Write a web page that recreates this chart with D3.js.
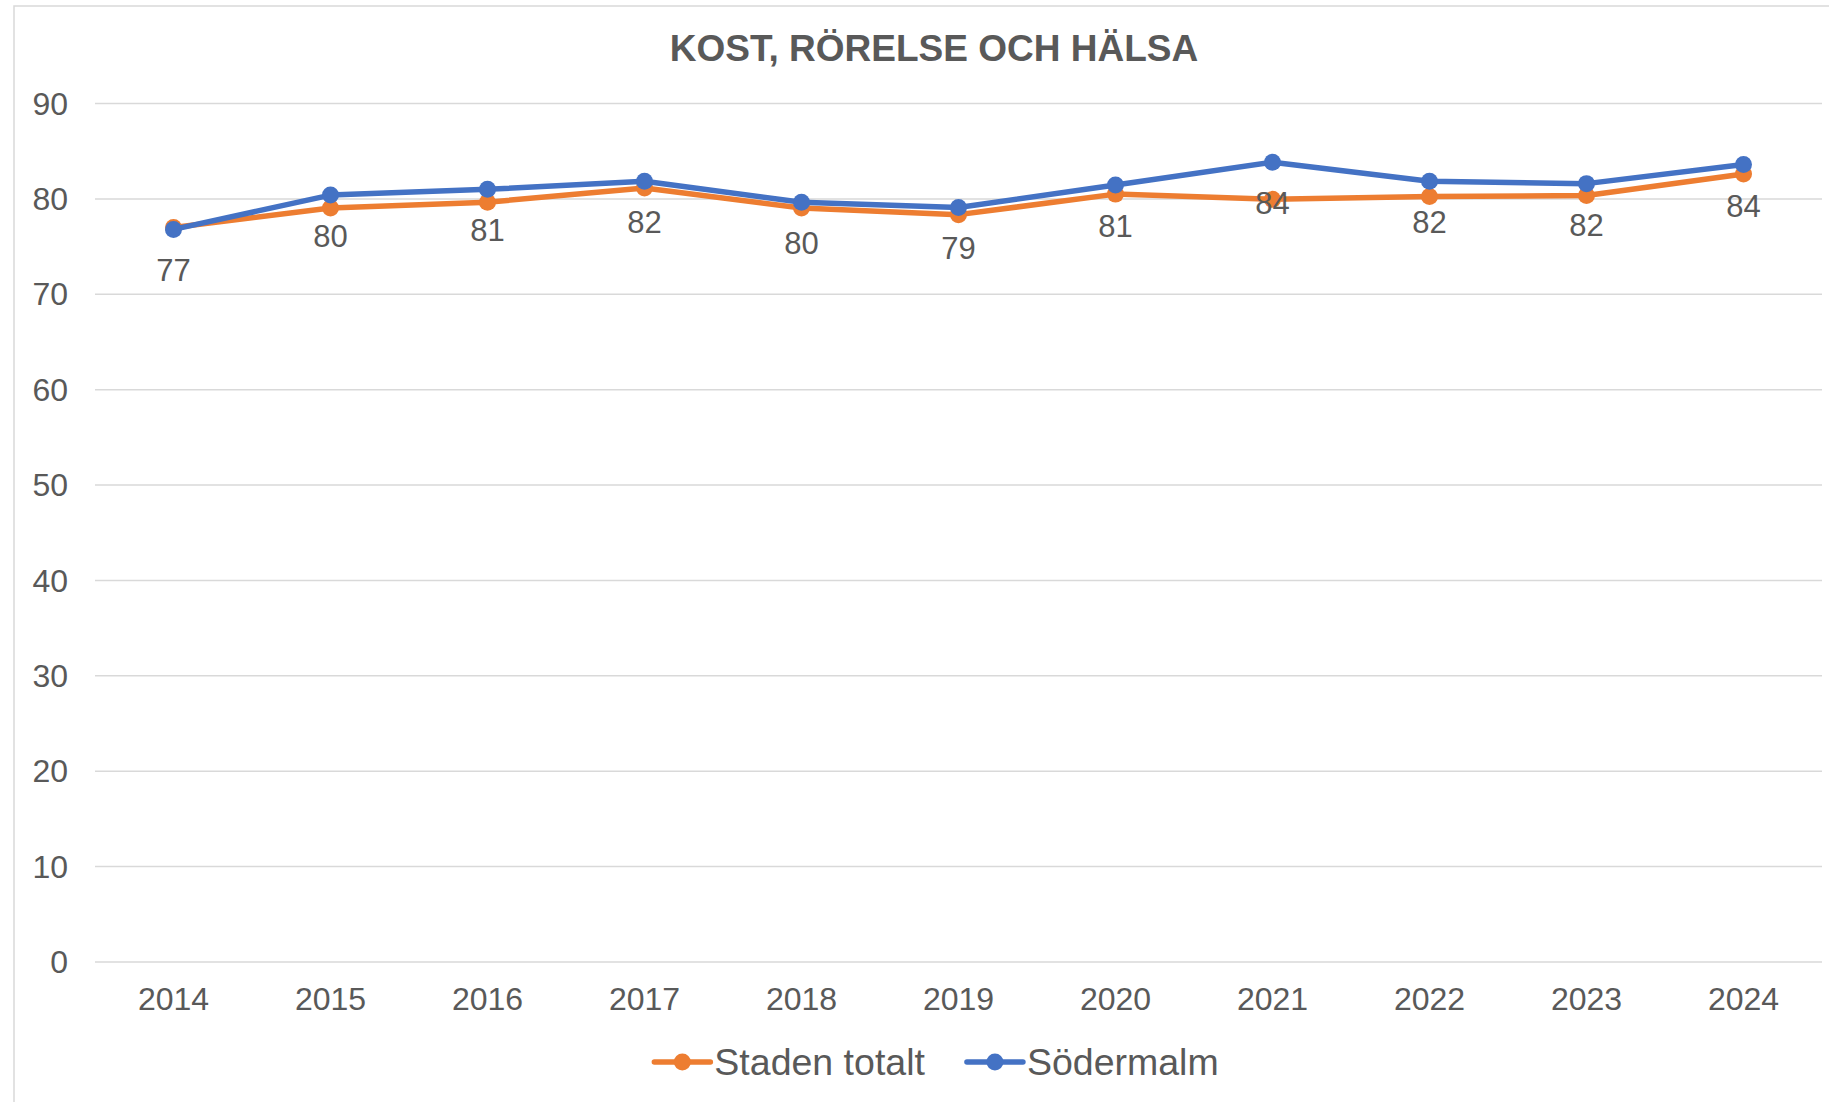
<!DOCTYPE html>
<html>
<head>
<meta charset="utf-8">
<script src="https://cdn.jsdelivr.net/npm/d3@7"></script>
<style>
  html, body { margin: 0; padding: 0; background: #fff; }
  svg { display: block; font-family: "Liberation Sans", Arial, sans-serif; }
</style>
</head>
<body>
<svg width="1829" height="1102"></svg>
<script>
// data
const years = ["2014", "2015", "2016", "2017", "2018", "2019", "2020", "2021", "2022", "2023", "2024"];
const stadenTotalt = [77.0, 79.05, 79.65, 81.15, 79.05, 78.35, 80.5, 79.95, 80.25, 80.35, 82.6];
const sodermalm = [76.8, 80.4, 81.0, 81.85, 79.65, 79.1, 81.45, 83.85, 81.85, 81.6, 83.6];
const yTicks = [0, 10, 20, 30, 40, 50, 60, 70, 80, 90];
const title = "KOST, RÖRELSE OCH HÄLSA";

const series = [
  { name: "Staden totalt", values: stadenTotalt, color: "#ED7D31" },
  { name: "Södermalm", values: sodermalm, color: "#4472C4" }
];

const textColor = "#595959";
const gridColor = "#d9d9d9";

const svg = d3.select("svg");

// outer chart border
svg.append("rect")
  .attr("x", 14).attr("y", 6)
  .attr("width", 1900).attr("height", 1200)
  .attr("fill", "#fff")
  .attr("stroke", gridColor)
  .attr("stroke-width", 1.5);

const plot = { left: 95, right: 1822, top: 103.5, bottom: 962 };

const x = d3.scaleBand()
  .domain(years)
  .range([plot.left, plot.right])
  .padding(0);

const y = d3.scaleLinear()
  .domain([0, 90])
  .range([plot.bottom, plot.top]);

const cx = d => x(d) + x.bandwidth() / 2;

// title
svg.append("text")
  .attr("x", 934)
  .attr("y", 61)
  .attr("text-anchor", "middle")
  .attr("font-size", 37)
  .attr("font-weight", "bold")
  .attr("fill", textColor)
  .text(title);

// gridlines
svg.append("g")
  .selectAll("line")
  .data(yTicks)
  .join("line")
  .attr("x1", plot.left)
  .attr("x2", plot.right)
  .attr("y1", d => y(d))
  .attr("y2", d => y(d))
  .attr("stroke", gridColor)
  .attr("stroke-width", 1.5);

// y axis labels
const yAxis = svg.append("g")
  .attr("transform", `translate(${plot.left - 27},0)`)
  .call(d3.axisLeft(y).tickValues(yTicks).tickSize(0).tickPadding(0));
yAxis.select(".domain").remove();
yAxis.selectAll("text")
  .attr("font-size", 32)
  .attr("font-family", "Liberation Sans, Arial, sans-serif")
  .attr("fill", textColor)
  .attr("dy", "0.33em");

// x axis labels
const xAxis = svg.append("g")
  .attr("transform", `translate(0,${plot.bottom})`)
  .call(d3.axisBottom(x).tickSize(0).tickPadding(0));
xAxis.select(".domain").remove();
xAxis.selectAll("text")
  .attr("font-size", 32)
  .attr("font-family", "Liberation Sans, Arial, sans-serif")
  .attr("fill", textColor)
  .attr("y", 48)
  .attr("dy", 0);

// lines and markers
const line = d3.line()
  .x((d, i) => cx(years[i]))
  .y(d => y(d));

series.forEach(s => {
  svg.append("path")
    .datum(s.values)
    .attr("d", line)
    .attr("fill", "none")
    .attr("stroke", s.color)
    .attr("stroke-width", 5.5)
    .attr("stroke-linejoin", "round")
    .attr("stroke-linecap", "round");

  svg.append("g")
    .selectAll("circle")
    .data(s.values)
    .join("circle")
    .attr("cx", (d, i) => cx(years[i]))
    .attr("cy", d => y(d))
    .attr("r", 8.5)
    .attr("fill", s.color);
});

// data labels for Södermalm, below the points
svg.append("g")
  .selectAll("text")
  .data(sodermalm)
  .join("text")
  .attr("x", (d, i) => cx(years[i]))
  .attr("y", d => y(d) + 52)
  .attr("text-anchor", "middle")
  .attr("font-size", 31)
  .attr("fill", textColor)
  .text(d => Math.round(d));

// legend
const legend = svg.append("g");
const legendY = 1062;
const sampleW = 56;
let lx = 0;
series.forEach((s, i) => {
  const item = legend.append("g").attr("transform", `translate(${lx},0)`);
  item.append("line")
    .attr("x1", 0).attr("x2", sampleW)
    .attr("y1", legendY).attr("y2", legendY)
    .attr("stroke", s.color)
    .attr("stroke-width", 5.5)
    .attr("stroke-linecap", "round");
  item.append("circle")
    .attr("cx", sampleW / 2).attr("cy", legendY)
    .attr("r", 8.5)
    .attr("fill", s.color);
  const t = item.append("text")
    .attr("x", sampleW + 4)
    .attr("y", 1075)
    .attr("font-size", 37.5)
    .attr("fill", textColor)
    .text(s.name);
  lx += sampleW + 4 + t.node().getComputedTextLength() + 42;
});
const legendW = lx - 42;
legend.attr("transform", `translate(${936.5 - legendW / 2},0)`);
</script>
</body>
</html>
